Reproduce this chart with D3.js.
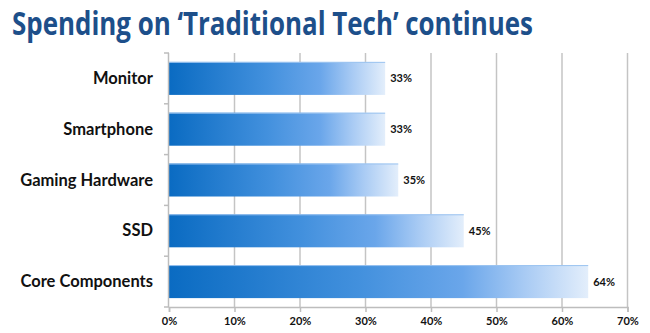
<!DOCTYPE html>
<html>
<head>
<meta charset="utf-8">
<script src="https://cdn.jsdelivr.net/npm/d3@7"></script>
<style>
  body { margin: 0; background: #fff; }
</style>
</head>
<body>
<div id="chart"></div>
<script>
// categories top to bottom, and their share of spending (%)
const categories = ["Monitor", "Smartphone", "Gaming Hardware", "SSD", "Core Components"];
const values = [33, 33, 35, 45, 64];
const ticks = [0, 10, 20, 30, 40, 50, 60, 70];
const title = "Spending on \u2018Traditional Tech\u2019 continues";

const width = 650, height = 333;
const margin = {top: 53, right: 22, bottom: 26, left: 169};
const innerW = width - margin.left - margin.right,
      innerH = height - margin.top - margin.bottom;

const svg = d3.select("#chart")
  .append("svg")
    .attr("width", width)
    .attr("height", height);

// title
svg.append("text")
    .attr("x", 12)
    .attr("y", 35)
    .attr("textLength", 521)
    .attr("lengthAdjust", "spacingAndGlyphs")
    .style("font-family", "'Open Sans', sans-serif")
    .style("font-weight", "bold")
    .style("font-size", "32px")
    .style("fill", "#1d4f8a")
    .text(title);

// bar gradient, dark blue to pale
const grad = svg.append("defs").append("linearGradient")
    .attr("id", "barGrad")
    .attr("x1", "0%").attr("x2", "100%")
    .attr("y1", "0%").attr("y2", "0%");
[["0%", "#0a6bc2"], ["45%", "#4290dd"], ["70%", "#6aa6ea"], ["85%", "#a9cbf4"], ["100%", "#e3eefb"]]
  .forEach(s => grad.append("stop").attr("offset", s[0]).attr("stop-color", s[1]));

const g = svg.append("g")
    .attr("transform", "translate(" + margin.left + "," + margin.top + ")");

const x = d3.scaleLinear().domain([0, 70]).range([0, innerW - 0.5]);
const y = d3.scaleBand().domain(categories).range([0, innerH]).paddingInner(0.35).paddingOuter(0.175);

// vertical gridlines
g.append("g")
  .selectAll("line")
  .data(ticks.slice(1))
  .enter()
  .append("line")
    .attr("x1", d => x(d)).attr("x2", d => x(d))
    .attr("y1", 0).attr("y2", innerH)
    .attr("stroke", "#c4c4c4")
    .attr("stroke-width", 1.5);

// bars
g.append("g")
  .selectAll("rect")
  .data(values)
  .enter()
  .append("rect")
    .attr("x", 0)
    .attr("y", (d, i) => y(categories[i]))
    .attr("width", d => x(d))
    .attr("height", y.bandwidth())
    .attr("fill", "url(#barGrad)");

// thin light edge along the top of each bar
g.append("g")
  .selectAll("line")
  .data(values)
  .enter()
  .append("line")
    .attr("x1", 0).attr("x2", d => x(d))
    .attr("y1", (d, i) => y(categories[i]) + 0.5)
    .attr("y2", (d, i) => y(categories[i]) + 0.5)
    .attr("stroke", "#9cc4f0")
    .attr("stroke-width", 1);

// value labels
g.append("g")
  .selectAll("text")
  .data(values)
  .enter()
  .append("text")
    .attr("x", d => x(d) + 5)
    .attr("y", (d, i) => y(categories[i]) + y.bandwidth() / 2 + 4)
    .style("font-family", "Lato, sans-serif")
    .style("font-weight", "bold")
    .style("font-size", "11px")
    .style("fill", "#111")
    .text(d => d + "%");

// x axis
const xAxis = g.append("g")
    .attr("transform", "translate(0," + innerH + ")")
    .call(d3.axisBottom(x).tickValues(ticks).tickSize(5).tickFormat(d => d + "%"));
xAxis.select(".domain").attr("stroke", "#bdbdbd").attr("stroke-width", 1.5);
xAxis.selectAll(".tick line").attr("stroke", "#bdbdbd").attr("stroke-width", 1.5);
xAxis.selectAll(".tick text")
    .attr("dy", "0.95em")
    .style("font-family", "Lato, sans-serif")
    .style("font-weight", "bold")
    .style("font-size", "11px")
    .style("fill", "#111");

// y axis: line with ticks at the band edges
const yAxis = g.append("g");
yAxis.append("line")
    .attr("x1", -0.5).attr("x2", -0.5)
    .attr("y1", 0).attr("y2", innerH)
    .attr("stroke", "#bdbdbd")
    .attr("stroke-width", 1.5);
yAxis.selectAll("line.edge")
  .data(d3.range(categories.length + 1))
  .enter()
  .append("line")
    .attr("class", "edge")
    .attr("x1", -5).attr("x2", 0)
    .attr("y1", i => i * innerH / categories.length)
    .attr("y2", i => i * innerH / categories.length)
    .attr("stroke", "#bdbdbd")
    .attr("stroke-width", 1.5);
yAxis.selectAll("text")
  .data(categories)
  .enter()
  .append("text")
    .attr("x", -16)
    .attr("y", d => y(d) + y.bandwidth() / 2 + 5.5)
    .attr("text-anchor", "end")
    .style("font-family", "Lato, sans-serif")
    .style("font-weight", "bold")
    .style("font-size", "16.5px")
    .style("fill", "#111")
    .text(d => d);
</script>
</body>
</html>
